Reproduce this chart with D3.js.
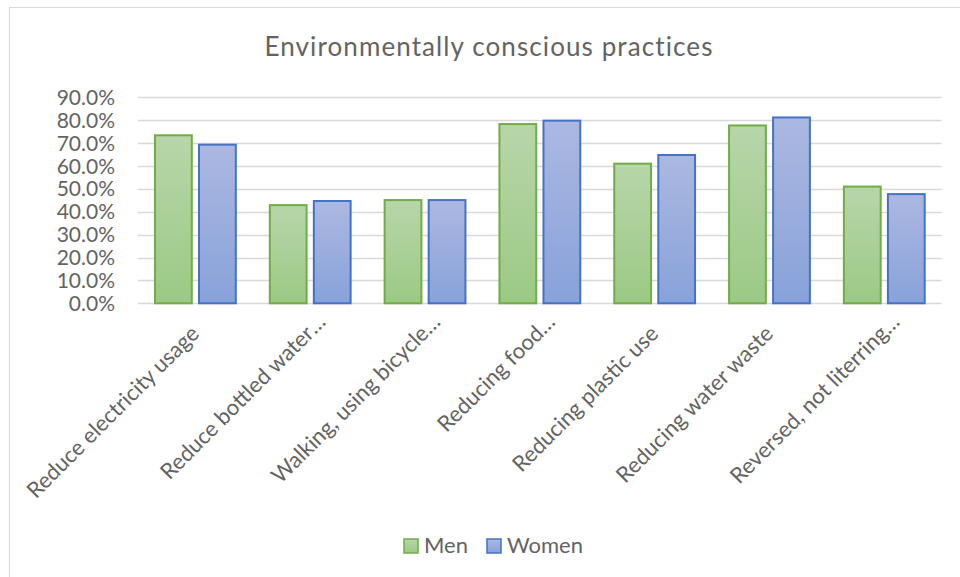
<!DOCTYPE html>
<html>
<head>
<meta charset="utf-8">
<script src="https://cdn.jsdelivr.net/npm/d3@7"></script>
<style>
  html, body { margin: 0; padding: 0; background: #fff; }
  svg { display: block; }
  text { font-family: Lato, "Open Sans", sans-serif; fill: #636363; }
</style>
</head>
<body>
<svg id="chart" width="960" height="577"></svg>
<script>
const title = "Environmentally conscious practices";
const categories = [
  "Reduce electricity usage",
  "Reduce bottled water …",
  "Walking, using bicycle…",
  "Reducing food…",
  "Reducing plastic use",
  "Reducing water waste",
  "Reversed, not literring…"
];
const seriesNames = ["Men", "Women"];
const men   = [0.734, 0.429, 0.451, 0.783, 0.610, 0.777, 0.510];
const women = [0.693, 0.447, 0.451, 0.798, 0.648, 0.812, 0.477];
const yTicks = [0, 0.1, 0.2, 0.3, 0.4, 0.5, 0.6, 0.7, 0.8, 0.9];

const seriesValues = [men, women];
const colors = {
  Men:   { stroke: "#70ad47", top: "#b7d6a9", bottom: "#9cc985" },
  Women: { stroke: "#4472c4", top: "#acb8e1", bottom: "#88a2da" }
};

const svg = d3.select("#chart");
const defs = svg.append("defs");
seriesNames.forEach(s => {
  const g = defs.append("linearGradient").attr("id", "grad-" + s)
    .attr("x1", 0).attr("y1", 0).attr("x2", 0).attr("y2", 1);
  g.append("stop").attr("offset", "0%").attr("stop-color", colors[s].top);
  g.append("stop").attr("offset", "100%").attr("stop-color", colors[s].bottom);
});

// chart frame
svg.append("rect").attr("x", 9.5).attr("y", 7.5).attr("width", 970).attr("height", 600)
  .attr("fill", "#fff").attr("stroke", "#d9d9d9").attr("stroke-width", 1);

const plot = { left: 138, right: 941.7, top: 97.3, bottom: 303.3 };

const x0 = d3.scaleBand().domain(categories).range([plot.left, plot.right]).padding(0);
const x1 = d3.scaleBand().domain(seriesNames)
  .range([17, x0.bandwidth() - 17]).paddingInner(0.164).paddingOuter(0);
const y = d3.scaleLinear().domain([0, 0.9]).range([plot.bottom, plot.top]);

// gridlines
svg.append("g").selectAll("line").data(yTicks).join("line")
  .attr("x1", plot.left).attr("x2", plot.right)
  .attr("y1", d => Math.round(y(d)) + 0.5).attr("y2", d => Math.round(y(d)) + 0.5)
  .attr("stroke", "#d9d9d9").attr("stroke-width", 1.3);

// y axis labels
const fmt = d3.format(".1%");
svg.append("g").selectAll("text").data(yTicks).join("text")
  .attr("x", 115).attr("y", d => y(d))
  .attr("dy", "0.36em")
  .attr("text-anchor", "end")
  .style("font-size", "21px")
  .text(d => fmt(d));

// bars
const groups = svg.append("g").selectAll("g").data(categories).join("g")
  .attr("transform", c => `translate(${x0(c)},0)`);
groups.selectAll("rect")
  .data((c, i) => seriesNames.map((s, k) => ({ s, v: seriesValues[k][i] })))
  .join("rect")
  .attr("x", d => x1(d.s))
  .attr("width", x1.bandwidth())
  .attr("y", d => y(d.v))
  .attr("height", d => y(0) - y(d.v))
  .attr("fill", d => `url(#grad-${d.s})`)
  .attr("stroke", d => colors[d.s].stroke)
  .attr("stroke-width", 2);

// x labels (rotated)
const labels = svg.append("g").selectAll("g").data(categories).join("g")
  .attr("transform", c => `translate(${x0(c) + x0.bandwidth() / 2 + 5},335) rotate(-45)`);
labels.each(function (c) {
  const g = d3.select(this);
  const m = c.match(/^(.*?)(\s?…)$/);
  const main = m ? m[1] : c;
  g.append("text").attr("text-anchor", "end").style("font-size", "22px").text(main);
  if (m) g.append("text").attr("text-anchor", "start").style("font-size", "22px").text(m[2]);
});

// title
svg.append("text").attr("x", 489).attr("y", 56)
  .attr("text-anchor", "middle")
  .style("font-size", "26px")
  .style("letter-spacing", "1.1px")
  .text(title);

// legend
const legend = svg.append("g");
const legendX = [404, 487];
seriesNames.forEach((s, i) => {
  legend.append("rect").attr("x", legendX[i]).attr("y", 539).attr("width", 14).attr("height", 14)
    .attr("fill", `url(#grad-${s})`).attr("stroke", colors[s].stroke).attr("stroke-width", 1.5);
  legend.append("text").attr("x", legendX[i] + 20).attr("y", 553)
    .style("font-size", "22px").text(s);
});
</script>
</body>
</html>
